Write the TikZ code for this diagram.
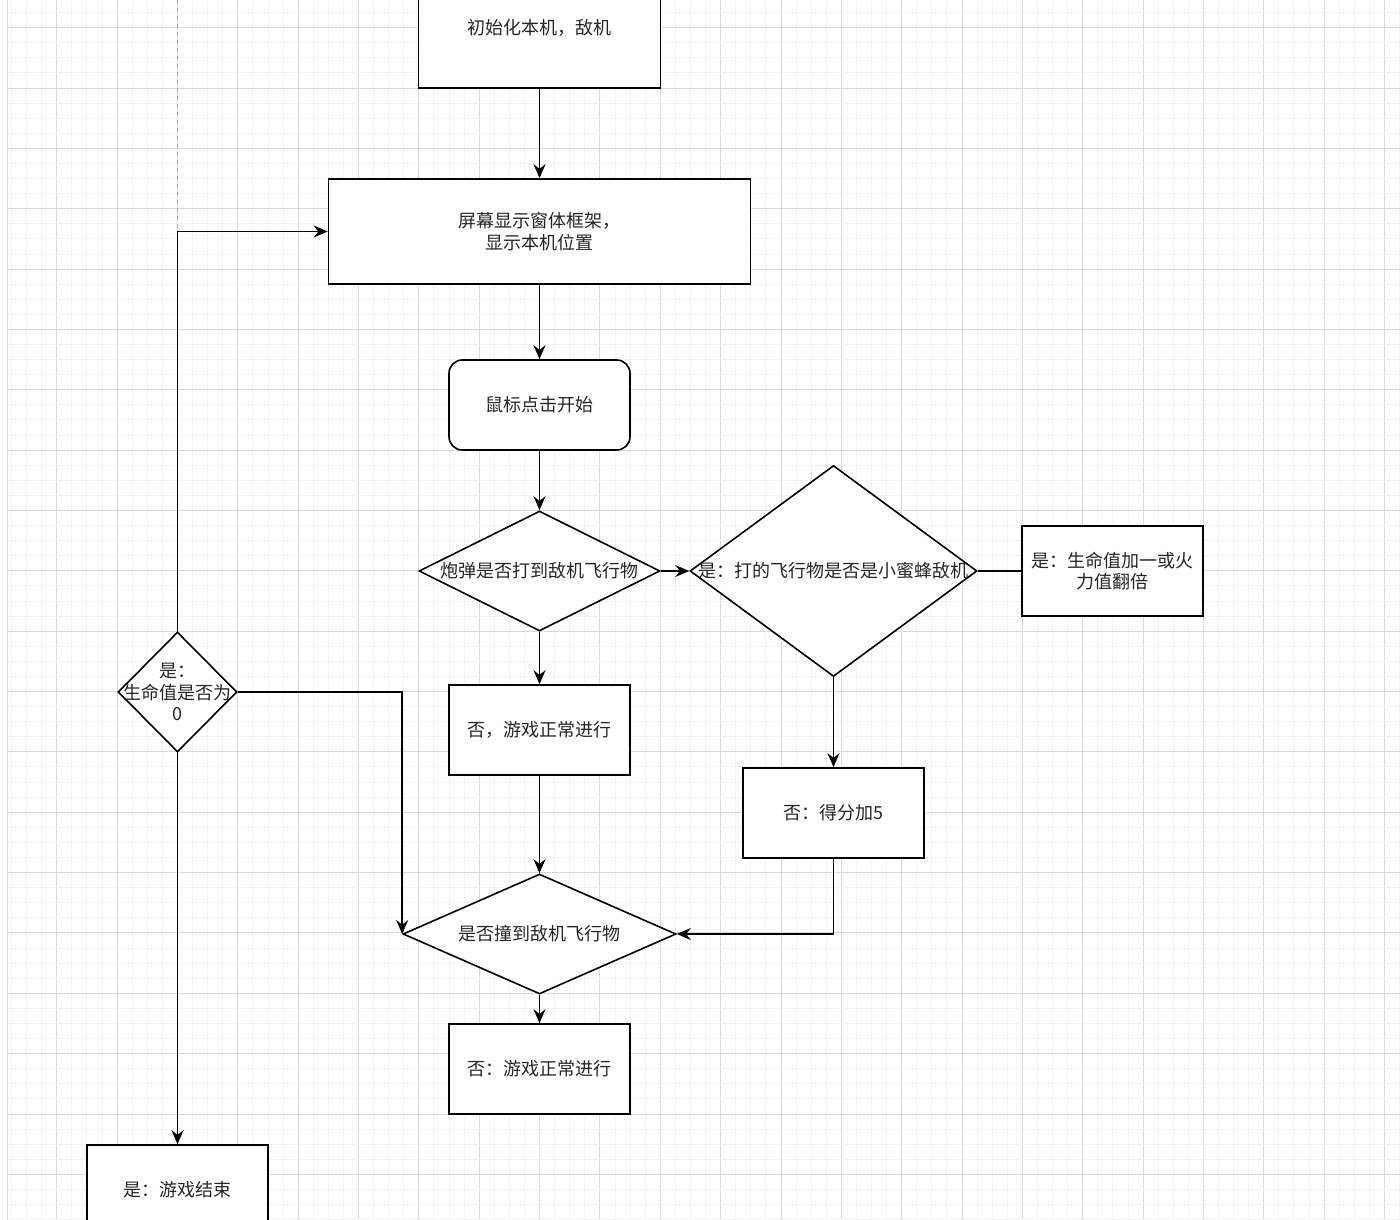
\documentclass[tikz,border=0pt]{standalone}
\usepackage{fontspec}
\setmainfont{Noto Sans CJK SC}
\usetikzlibrary{shapes.geometric,arrows.meta}
\begin{document}
\begin{tikzpicture}[x=0.75pt,y=-0.75pt,
  every node/.style={font=\fontsize{13.5}{16.1}\selectfont, text=black!85},
  sz/.style 2 args={minimum width=#1*0.75pt, minimum height=#2*0.75pt},
  box/.style={draw=black, line width=1.2pt, fill=white, inner sep=0pt, align=center, rectangle},
  rbox/.style={box, rounded corners=10pt},
  dia/.style={draw=black, line width=1.2pt, fill=white, diamond, inner sep=0pt},
  conn/.style={line width=1.2pt, -{Stealth[length=10.5pt,width=9pt,inset=3.5pt]}},
  plainline/.style={line width=1.2pt},
  minorgrid/.style={draw=black!5, line width=0.75pt},
  majorgrid/.style={draw=black!15, line width=0.75pt},
  guide/.style={draw=black!35, line width=0.75pt, dash pattern=on 3pt off 3pt}
]
\clip (0,0) rectangle (1400,1220);
\fill[white] (0,0) rectangle (1400,1220);
% grid
\foreach \i in {0,...,92} {
  \pgfmathtruncatemacro{\m}{mod(\i,4)}
  \ifnum\m=3
    \draw[majorgrid] ({11.54+\i*15.0875},0) -- ({11.54+\i*15.0875},1220);
  \else
    \draw[minorgrid] ({11.54+\i*15.0875},0) -- ({11.54+\i*15.0875},1220);
  \fi
}
\foreach \j in {0,...,80} {
  \pgfmathtruncatemacro{\m}{mod(\j,4)}
  \ifnum\m=1
    \draw[majorgrid] (7,{12.61+\j*15.0875}) -- (1400,{12.61+\j*15.0875});
  \else
    \draw[minorgrid] (7,{12.61+\j*15.0875}) -- (1400,{12.61+\j*15.0875});
  \fi
}
\fill[white] (0,0) rectangle (6.5,1220);
\draw[majorgrid] (7,0) -- (7,1220);
\draw[guide] (177,0) -- (177,231.5);

% nodes
\node[box, sz={242}{120}] (b1) at (539.5,28) {初始化本机，敌机};
\node[box, sz={422}{105}] (b2) at (539.5,231.5) {屏幕显示窗体框架，\\显示本机位置};
\node[rbox, sz={181}{90}] (r1) at (539.5,405) {鼠标点击开始};
\node[dia, sz={241}{120}, label={center:炮弹是否打到敌机飞行物}] (d1) at (539.5,571) {};
\node[dia, sz={287}{211}, label={center:是：打的飞行物是否是小蜜蜂敌机}] (d2) at (833.5,571) {};
\node[box, sz={181}{90}] (b3) at (1112.5,571) {是：生命值加一或火\\力值翻倍};
\node[box, sz={181}{90}] (b4) at (539.5,730) {否，游戏正常进行};
\node[box, sz={181}{90}] (b5) at (833.5,813) {否：得分加5};
\node[dia, sz={273}{120}, label={center:是否撞到敌机飞行物}] (d3) at (539.5,934) {};
\node[box, sz={181}{90}] (b6) at (539.5,1069) {否：游戏正常进行};
\node[dia, sz={119}{120}, label={[align=center]center:是：\\生命值是否为\\0}] (d4) at (177.5,692) {};
\node[box, sz={181}{90}] (b7) at (177.5,1190) {是：游戏结束};

% connectors
\draw[conn] (b1.south) -- (b2.north);
\draw[conn] (b2.south) -- (r1.north);
\draw[conn] (r1.south) -- (d1.north);
\draw[conn] (d1.east) -- (d2.west);
\draw[plainline] (d2.east) -- (b3.west);
\draw[conn] (d1.south) -- (b4.north);
\draw[conn] (b4.south) -- (d3.north);
\draw[conn] (d2.south) -- (b5.north);
\draw[conn] (b5.south) |- (d3.east);
\draw[conn] (d3.south) -- (b6.north);
\draw[conn] (d4.east) -| (d3.west);
\draw[conn] (d4.north) |- (b2.west);
\draw[conn] (d4.south) -- (b7.north);
\end{tikzpicture}
\end{document}
